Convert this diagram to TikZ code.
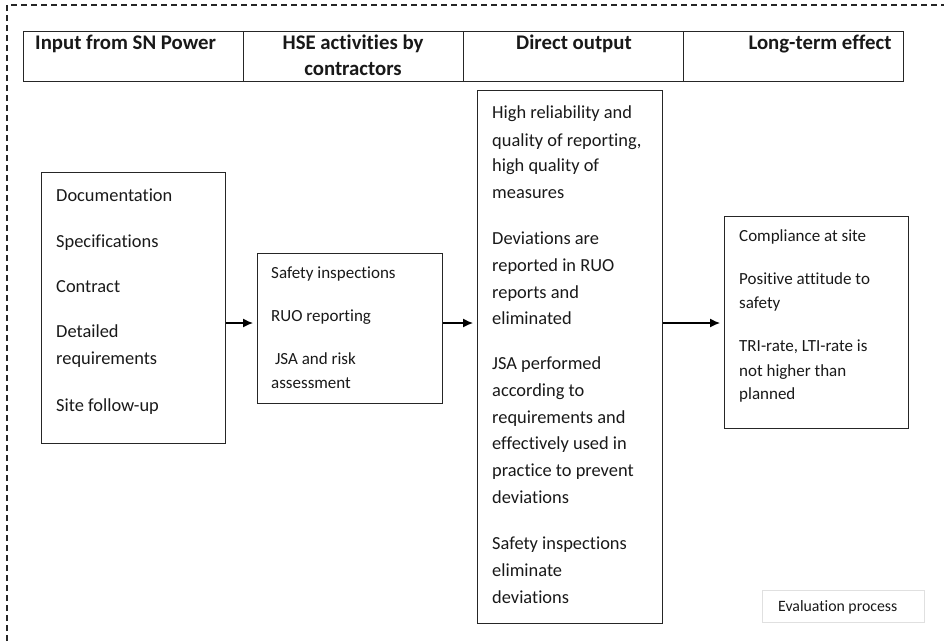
\documentclass[tikz,border=0pt]{standalone}
\usepackage{fontspec}
\setmainfont{Carlito}[Ligatures=NoCommon]
\usetikzlibrary{arrows.meta}
\begin{document}
\begin{tikzpicture}[x=1pt,y=-1pt,
  frame/.style={draw=black!85, line width=1.3pt, rectangle, inner sep=0pt, anchor=north west},
  txt/.style={anchor=west, inner sep=0pt, text height=0.72em, text depth=0.22em, text=black!90, yshift=-4pt},
  big/.style={txt, font=\fontsize{18.4}{22}\selectfont},
  small/.style={txt, font=\fontsize{17}{21}\selectfont},
  head/.style={inner sep=0pt, text height=0.72em, text depth=0.22em, text=black!90, yshift=-4pt,
    font=\fontsize{20.8}{24}\selectfont\bfseries},
  flow/.style={-{Latex[length=10pt,width=9pt]}, line width=1.3pt, shorten >=4pt}
]
\useasboundingbox (0,0) rectangle (944,641);

% dashed outline of the evaluation area
\draw[line width=1.4pt, dash pattern=on 6pt off 4pt, black!85] (7,641) -- (7,5) -- (944,5);

% header row
\node[frame, minimum width=220pt, minimum height=50pt] (h1) at (23,31) {};
\node[frame, minimum width=220pt, minimum height=50pt] (h2) at (243,31) {};
\node[frame, minimum width=220pt, minimum height=50pt] (h3) at (463,31) {};
\node[frame, minimum width=220pt, minimum height=50pt] (h4) at (683,31) {};
\node[head, anchor=west] (t1) at (35,43) {Input from SN Power};
\node[head] (t2a) at (353,43) {HSE activities by};
\node[head] (t2b) at (353,69) {contractors};
\node[head] (t3) at (574,43) {Direct output};
\node[head] (t4) at (820,43) {Long-term effect};

% content boxes
\node[frame, minimum width=184pt, minimum height=271pt] (inbox) at (41,172) {};
\node[frame, minimum width=185pt, minimum height=150pt] (hsebox) at (257,253) {};
\node[frame, minimum width=185pt, minimum height=533pt] (outbox) at (477,90) {};
\node[frame, minimum width=184pt, minimum height=212pt] (ltbox) at (724,216) {};

% box texts
\foreach \y/\t [count=\i] in {195/Documentation, 241/Specifications, 286/Contract,
    331/Detailed, 358/requirements, 405/{Site follow-up}}
  \node[big] (in\i) at (56,\y) {\t};

\foreach \y/\t [count=\i] in {272/{Safety inspections}, 315/{RUO reporting},
    358/{\ JSA and risk}, 382/assessment}
  \node[small] (hse\i) at (271,\y) {\t};

\foreach \y/\t [count=\i] in {112/{High reliability and}, 140/{quality of reporting,},
    165/{high quality of}, 192/measures,
    238/{Deviations are}, 265/{reported in RUO}, 292/{reports and}, 318/eliminated,
    363/{JSA performed}, 390/{according to}, 417/{requirements and},
    443/{effectively used in}, 470/{practice to prevent}, 497/deviations,
    543/{Safety inspections}, 570/eliminate, 597/deviations}
  \node[big] (out\i) at (492,\y) {\t};

\foreach \y/\t [count=\i] in {235/{Compliance at site}, 278/{Positive attitude to},
    302/safety, 345/{TRI-rate, LTI-rate is}, 370/{not higher than}, 393/planned}
  \node[small] (lt\i) at (739,\y) {\t};

% evaluation label
\node[draw=black!12, line width=1pt, minimum width=162pt, minimum height=32pt, inner sep=0pt,
  anchor=north west, font=\fontsize{15.8}{18}\selectfont, text=black!90] (eval) at (762,590) {};
\node[txt, yshift=2pt, font=\fontsize{15.8}{18}\selectfont] (evaltext) at (778,607) {Evaluation process};

% flow arrows
\coordinate (row) at (0,323);
\draw[flow] (inbox.east |- row) -- (hsebox.west |- row);
\draw[flow] (hsebox.east |- row) -- (outbox.west |- row);
\draw[flow] (outbox.east |- row) -- (ltbox.west |- row);
\end{tikzpicture}
\end{document}
